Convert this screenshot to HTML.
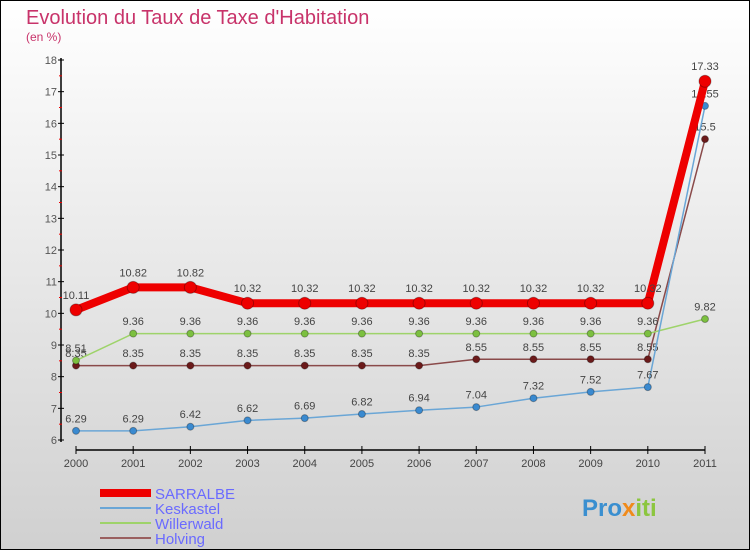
<!DOCTYPE html>
<html><head><meta charset="utf-8"><style>
body{margin:0}
#c{width:750px;height:550px;position:relative;font-family:"Liberation Sans",sans-serif}
</style></head><body>
<div id="c">
<svg id="s" width="750" height="550" xmlns="http://www.w3.org/2000/svg">
<defs><linearGradient id="bg" x1="0" y1="0" x2="0" y2="1"><stop offset="0" stop-color="#ffffff"/><stop offset="1" stop-color="#d0d0d0"/></linearGradient></defs>
<rect x="0.5" y="0.5" width="749" height="549" fill="url(#bg)" stroke="#000"/>
<text x="26" y="24" font-size="20" fill="#c8336a">Evolution du Taux de Taxe d'Habitation</text>
<text x="26" y="41" font-size="12" fill="#c8336a">(en %)</text>
<g id="axes"></g><g id="series"></g>
<g>
<rect x="100" y="489" width="51" height="8" fill="#e00"/>
<text x="155" y="499" font-size="15" fill="#6a6aff">SARRALBE</text>
<rect x="100" y="507" width="51" height="2" fill="#6aa6d6"/>
<text x="155" y="514" font-size="15" fill="#6a6aff">Keskastel</text>
<rect x="100" y="522" width="51" height="2" fill="#9ed36a"/>
<text x="155" y="529" font-size="15" fill="#6a6aff">Willerwald</text>
<rect x="100" y="537" width="51" height="2" fill="#9a6060"/>
<text x="155" y="544" font-size="15" fill="#6a6aff">Holving</text>
</g>
<text x="582" y="516" font-size="24" font-weight="bold" fill="#3a8fd0">Pro<tspan fill="#f08a1a">x</tspan><tspan fill="#8cc63f">iti</tspan></text>
</svg></div>
<script>
const years=[2000,2001,2002,2003,2004,2005,2006,2007,2008,2009,2010,2011];
const yTicks=[6,7,8,9,10,11,12,13,14,15,16,17,18];
const sarralbe=[10.11,10.82,10.82,10.32,10.32,10.32,10.32,10.32,10.32,10.32,10.32,17.33];
const keskastel=[6.29,6.29,6.42,6.62,6.69,6.82,6.94,7.04,7.32,7.52,7.67,16.55];
const willerwald=[8.51,9.36,9.36,9.36,9.36,9.36,9.36,9.36,9.36,9.36,9.36,9.82];
const holving=[8.35,8.35,8.35,8.35,8.35,8.35,8.35,8.55,8.55,8.55,8.55,15.5];
const NS="http://www.w3.org/2000/svg";
const xs=i=>76+i*(705-76)/11;
const ys=v=>440-(v-6)*(380/12);
function mk(p,t,a){const e=document.createElementNS(NS,t);for(const k in a)e.setAttribute(k,a[k]);p.appendChild(e);return e;}
const ax=document.getElementById('axes');
let e=mk(ax,'line',{x1:61,y1:58,x2:61,y2:442,stroke:'#000','stroke-width':1.5});


e=mk(ax,'line',{x1:76,y1:450,x2:705,y2:450,stroke:'#000','stroke-width':1.5});


yTicks.forEach((v,i)=>{
 mk(ax,'line',{x1:58,y1:ys(v),x2:64,y2:ys(v),stroke:'#000'});
 if(i<yTicks.length-1)mk(ax,'line',{x1:59,y1:ys(v+0.5),x2:62,y2:ys(v+0.5),stroke:'#e00'});
 const t=mk(ax,'text',{x:57,y:ys(v)+4,'font-size':11,'text-anchor':'end',fill:'#555'});t.textContent=v;
 
 
});
years.forEach((y,i)=>{
 mk(ax,'line',{x1:xs(i),y1:446,x2:xs(i),y2:454,stroke:'#000'});
 const t=mk(ax,'text',{x:xs(i),y:467,'font-size':11,'text-anchor':'middle',fill:'#444'});t.textContent=y;
 
 
});
const sg=document.getElementById('series');
function series(name,data,color,dot,lw,r,fs){
 const g=mk(sg,'g',{});
 
 
 mk(g,'polyline',{points:data.map((v,i)=>xs(i)+','+ys(v)).join(' '),fill:'none',stroke:color,'stroke-width':lw,'stroke-linejoin':'round'});
 data.forEach((v,i)=>{
  const c=mk(g,'circle',{cx:xs(i),cy:ys(v),r:r,fill:dot,stroke:'rgba(0,0,0,0.3)'});
  
  
  const t=mk(g,'text',{x:xs(i),y:ys(v)-r-5,'font-size':fs,'text-anchor':'middle',fill:'#444'});t.textContent=v;
  
  
 });
}
series('holving',holving,'#8a4a4a','#6b1a1a',1.5,3.5,11);
series('willerwald',willerwald,'#9ed36a','#7cc040',1.5,3.5,11);
series('keskastel',keskastel,'#6aa6d6','#3a8ad0',1.5,3.5,11);
series('sarralbe',sarralbe,'#ee0000','#ee0000',8,6,11);
</script>
</body></html>
